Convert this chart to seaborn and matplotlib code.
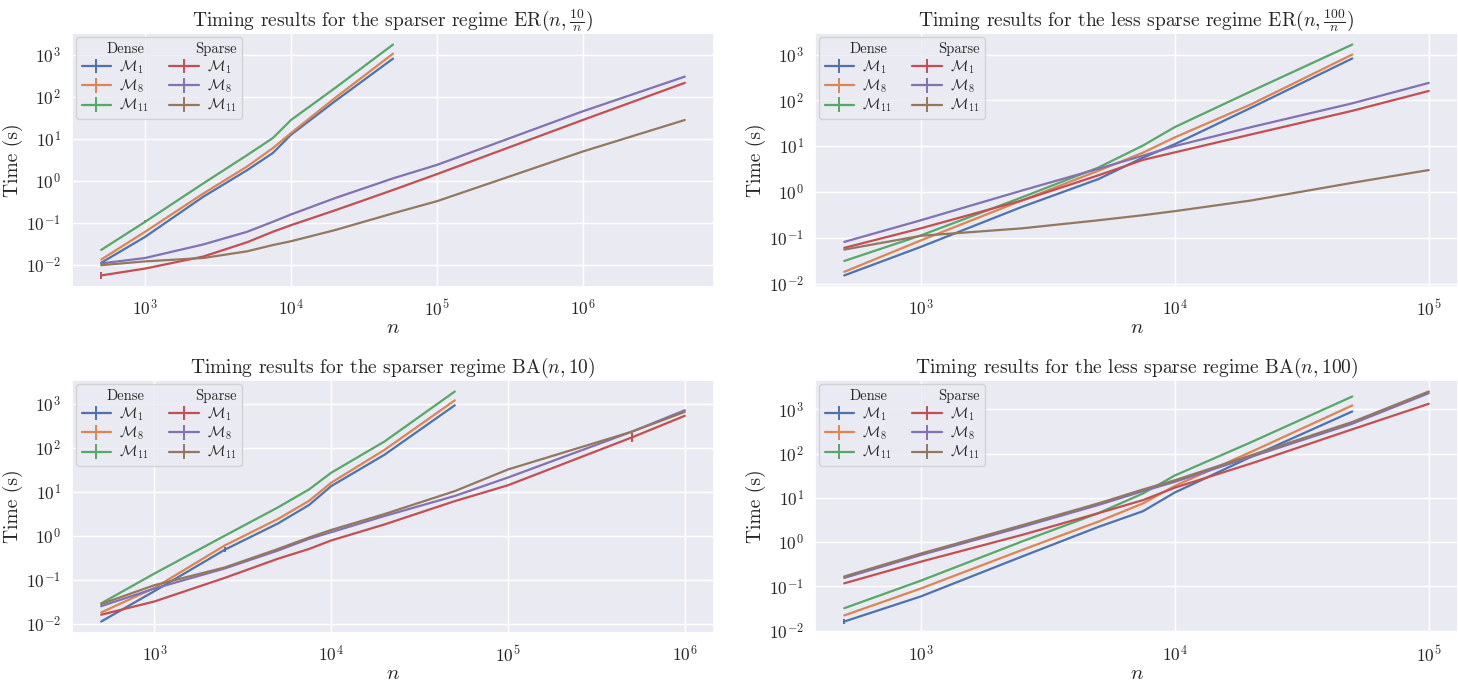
import numpy as np
import matplotlib
matplotlib.use('Agg')
import matplotlib.pyplot as plt
from matplotlib.lines import Line2D
import seaborn as sns

########## DATA ##########
n_dense = [500, 1000, 2500, 5000, 7500, 10000, 20000, 50000]
n_er10_sparse = [500, 1000, 2500, 5000, 7500, 10000, 20000, 50000, 100000, 1000000, 5000000]
n_er100_sparse = [500, 1000, 2500, 5000, 7500, 10000, 20000, 50000, 100000]
n_ba10_sparse = [500, 1000, 2500, 5000, 7500, 10000, 20000, 50000, 100000, 500000, 1000000]
n_ba100_sparse = [500, 1000, 2500, 5000, 7500, 10000, 20000, 50000, 100000]

# ER(n, 10/n)
er10_dense_m1 = [0.0114, 0.047, 0.42, 1.8, 4.6, 12.5, 78, 800]
er10_dense_m8 = [0.0136, 0.062, 0.5, 2.2, 6.0, 13.7, 93, 1050]
er10_dense_m11 = [0.023, 0.107, 0.87, 4.1, 10.4, 28, 160, 1730]
er10_sparse_m1 = [0.0057, 0.0083, 0.016, 0.035, 0.062, 0.089, 0.2, 0.61, 1.45, 28, 213]
er10_sparse_m8 = [0.011, 0.0148, 0.031, 0.062, 0.107, 0.16, 0.39, 1.15, 2.4, 45, 300]
er10_sparse_m11 = [0.010, 0.0123, 0.0148, 0.0213, 0.030, 0.037, 0.068, 0.17, 0.33, 5.0, 28]

# ER(n, 100/n)
er100_dense_m1 = [0.015, 0.063, 0.47, 1.9, 5.6, 11, 69, 820]
er100_dense_m8 = [0.018, 0.087, 0.65, 2.9, 7.2, 15.5, 82, 1000]
er100_dense_m11 = [0.031, 0.112, 0.76, 3.4, 10.3, 26, 158, 1650]
er100_sparse_m1 = [0.06, 0.16, 0.65, 2.3, 5.0, 7.3, 18, 59, 160]
er100_sparse_m8 = [0.081, 0.24, 1.07, 3.2, 6.2, 10, 26, 86, 240]
er100_sparse_m11 = [0.055, 0.11, 0.16, 0.24, 0.31, 0.38, 0.65, 1.58, 3.0]

# BA(n, 10)
ba10_dense_m1 = [0.0112, 0.055, 0.48, 1.9, 5.0, 13.4, 69, 920]
ba10_dense_m8 = [0.018, 0.065, 0.6, 2.4, 6.2, 16, 89, 1190]
ba10_dense_m11 = [0.029, 0.138, 1.0, 4.4, 11.3, 27, 138, 1890]
ba10_sparse_m1 = [0.016, 0.032, 0.11, 0.3, 0.5, 0.78, 1.8, 6.1, 14, 170, 530]
ba10_sparse_m8 = [0.025, 0.063, 0.18, 0.46, 0.85, 1.2, 2.8, 8.0, 21, 230, 710]
ba10_sparse_m11 = [0.028, 0.075, 0.19, 0.5, 0.91, 1.35, 3.1, 10.3, 32, 230, 650]

# BA(n, 100)
ba100_dense_m1 = [0.016, 0.059, 0.47, 2.2, 5.0, 13.2, 85, 900]
ba100_dense_m8 = [0.022, 0.089, 0.66, 2.9, 7.5, 18.6, 110, 1230]
ba100_dense_m11 = [0.032, 0.134, 1.03, 4.5, 12.6, 32, 182, 1960]
ba100_sparse_m1 = [0.117, 0.36, 1.45, 4.5, 8.9, 17, 60, 355, 1340]
ba100_sparse_m8 = [0.155, 0.51, 2.2, 6.9, 14.2, 23, 85, 475, 2330]
ba100_sparse_m11 = [0.167, 0.55, 2.4, 7.5, 15.5, 25, 92, 520, 2540]

# the few visible error bars (half-width in log10 units), keyed by (panel, series, index)
visible_err = {(0, 'sparse_m1', 0): 0.08, (0, 'dense_m11', 1): 0.04,
               (2, 'dense_m1', 2): 0.06, (2, 'sparse_m1', 9): 0.1,
               (3, 'dense_m1', 0): 0.05}

titles = [r'Timing results for the sparser regime $\mathrm{ER}(n, \frac{10}{n})$',
          r'Timing results for the less sparse regime $\mathrm{ER}(n, \frac{100}{n})$',
          r'Timing results for the sparser regime $\mathrm{BA}(n, 10)$',
          r'Timing results for the less sparse regime $\mathrm{BA}(n, 100)$']
model_keys = ['1', '8', '11']
model_labels = [r'$\mathcal{M}_1$', r'$\mathcal{M}_8$', r'$\mathcal{M}_{11}$']
####################################################

panels = [
    (n_dense, [er10_dense_m1, er10_dense_m8, er10_dense_m11],
     n_er10_sparse, [er10_sparse_m1, er10_sparse_m8, er10_sparse_m11]),
    (n_dense, [er100_dense_m1, er100_dense_m8, er100_dense_m11],
     n_er100_sparse, [er100_sparse_m1, er100_sparse_m8, er100_sparse_m11]),
    (n_dense, [ba10_dense_m1, ba10_dense_m8, ba10_dense_m11],
     n_ba10_sparse, [ba10_sparse_m1, ba10_sparse_m8, ba10_sparse_m11]),
    (n_dense, [ba100_dense_m1, ba100_dense_m8, ba100_dense_m11],
     n_ba100_sparse, [ba100_sparse_m1, ba100_sparse_m8, ba100_sparse_m11]),
]

sns.set_theme(style='darkgrid', palette='deep')
plt.rcParams['font.family'] = 'serif'
plt.rcParams['font.serif'] = ['cmr10', 'DejaVu Serif']
plt.rcParams['mathtext.fontset'] = 'cm'
plt.rcParams['axes.formatter.use_mathtext'] = True
pal = sns.color_palette('deep')
dense_colors = [pal[0], pal[1], pal[2]]
sparse_colors = [pal[3], pal[4], pal[5]]

fig = plt.figure(figsize=(14.58, 6.82), dpi=100)
rects = [[0.0494, 0.5792, 0.4403, 0.3724],
         [0.559, 0.5792, 0.441, 0.3724],
         [0.0494, 0.0718, 0.4403, 0.3710],
         [0.559, 0.0718, 0.441, 0.3710]]


def yerr_for(k, key, y):
    y = np.asarray(y, dtype=float)
    lo = np.zeros_like(y)
    hi = np.zeros_like(y)
    for (p, s, i), d in visible_err.items():
        if p == k and s == key:
            lo[i] = y[i] - y[i] / 10 ** d
            hi[i] = y[i] * 10 ** d - y[i]
    return [lo, hi]


for k, (nd, dense, ns, sparse) in enumerate(panels):
    ax = fig.add_axes(rects[k])
    ax.set_xscale('log')
    ax.set_yscale('log')
    handles = [Line2D([], [], alpha=0)]
    labels = ['Dense']
    for j, y in enumerate(dense):
        h = ax.errorbar(nd, y, yerr=yerr_for(k, 'dense_m' + model_keys[j], y),
                        color=dense_colors[j], lw=1.6, elinewidth=1.4)
        handles.append(h)
        labels.append(model_labels[j])
    handles.append(Line2D([], [], alpha=0))
    labels.append('Sparse')
    for j, y in enumerate(sparse):
        h = ax.errorbar(ns, y, yerr=yerr_for(k, 'sparse_m' + model_keys[j], y),
                        color=sparse_colors[j], lw=1.6, elinewidth=1.4)
        handles.append(h)
        labels.append(model_labels[j])
    # x limits: 5% margin (in log space) around the data
    lx = np.log10([min(nd + ns), max(nd + ns)])
    m = 0.05 * (lx[1] - lx[0])
    ax.set_xlim(10 ** (lx[0] - m), 10 ** (lx[1] + m))
    ax.set_title(titles[k], fontsize=14, pad=5)
    ax.set_xlabel(r'$n$', fontsize=15, labelpad=0)
    ax.set_ylabel('Time (s)', fontsize=14, labelpad=2)
    ax.tick_params(labelsize=12.5, pad=2)
    leg = ax.legend(handles, labels, ncol=2, loc='upper left', fontsize=10.5,
                    handlelength=2.0, labelspacing=0.12, columnspacing=1.4,
                    handletextpad=0.6, borderpad=0.35, borderaxespad=0.3)
    # shift column headers left over the handles
    for col in leg._legend_handle_box.get_children():
        rows = col.get_children()
        rows[0].get_children()[0].set_width(12)

fig.savefig('out.png', dpi=100)
